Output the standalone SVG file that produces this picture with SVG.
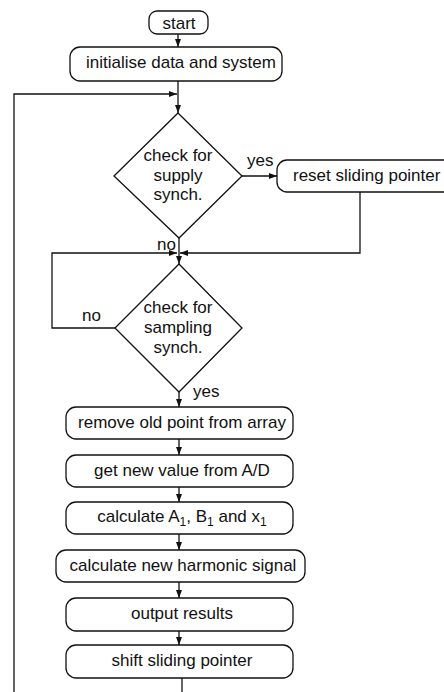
<svg xmlns="http://www.w3.org/2000/svg" width="444" height="692" viewBox="0 0 444 692">
  <style>
    .box { fill: #ffffff; stroke: #111111; stroke-width: 1.3; }
    .dia { fill: #ffffff; stroke: #111111; stroke-width: 1.3; }
    .lbl { font-family: "Liberation Sans", Arial, Helvetica, sans-serif; font-size: 17px; fill: #111111; }
    .mid { text-anchor: middle; }
    .wire { fill: none; stroke: #111111; stroke-width: 1.3; }
    .arrow { marker-end: url(#head); }
  </style>
  <defs>
    <marker id="head" markerWidth="8" markerHeight="6" refX="8" refY="3" orient="auto" markerUnits="userSpaceOnUse">
      <path d="M0,0 L8,3 L0,6 Z" fill="#111111"/>
    </marker>
  </defs>
  <rect width="444" height="692" fill="#ffffff"/>

  <!-- connectors -->
  <g id="connectors">
    <path class="wire arrow" d="M178,34 V47"/>
    <path class="wire arrow" d="M178,81 V113"/>
    <path class="wire arrow" d="M14,692 V94 H177"/>
    <path class="wire arrow" d="M242,176 H277"/>
    <path class="wire arrow" d="M360,192 V253 H180"/>
    <path class="wire arrow" d="M115,328 H52 V253 H177"/>
    <path class="wire arrow" d="M179,238 V264"/>
    <path class="wire arrow" d="M179,392 V407"/>
    <path class="wire arrow" d="M179,439 V455"/>
    <path class="wire arrow" d="M179,487 V502"/>
    <path class="wire arrow" d="M179,534 V550"/>
    <path class="wire arrow" d="M179,582 V598"/>
    <path class="wire arrow" d="M179,631 V645"/>
    <path class="wire" d="M182,678 V692"/>
    <text class="lbl" x="247" y="166">yes</text>
    <text class="lbl" x="157" y="250">no</text>
    <text class="lbl" x="82" y="321">no</text>
    <text class="lbl" x="193" y="397">yes</text>
  </g>

  <g id="start">
    <rect class="box" x="149" y="11" width="59" height="23" rx="8"/>
    <text class="lbl mid" x="179" y="29">start</text>
  </g>

  <g id="initialise">
    <rect class="box" x="70" y="47" width="212" height="34" rx="10"/>
    <text class="lbl mid" x="181" y="68">initialise data and system</text>
  </g>

  <g id="supply-synch">
    <polygon class="dia" points="178,113 242,176 179,238 114,176"/>
    <text class="lbl mid" x="178" y="161">check for</text>
    <text class="lbl mid" x="178" y="181">supply</text>
    <text class="lbl mid" x="178" y="200">synch.</text>
  </g>

  <g id="reset-pointer">
    <rect class="box" x="277" y="160" width="180" height="32" rx="10"/>
    <text class="lbl" x="293" y="181">reset sliding pointer</text>
  </g>

  <g id="sampling-synch">
    <polygon class="dia" points="179,264 242,328 179,392 115,328"/>
    <text class="lbl mid" x="178" y="313">check for</text>
    <text class="lbl mid" x="178" y="333">sampling</text>
    <text class="lbl mid" x="178" y="353">synch.</text>
  </g>

  <g id="remove-point">
    <rect class="box" x="66" y="407" width="227" height="32" rx="10"/>
    <text class="lbl mid" x="182" y="428">remove old point from array</text>
  </g>

  <g id="get-value">
    <rect class="box" x="66" y="455" width="227" height="32" rx="10"/>
    <text class="lbl mid" x="182" y="476">get new value from A/D</text>
  </g>

  <g id="calc-coeffs">
    <rect class="box" x="66" y="502" width="227" height="32" rx="10"/>
    <text class="lbl mid" x="182" y="522">calculate A<tspan font-size="12" dy="4">1</tspan><tspan dy="-4">, B</tspan><tspan font-size="12" dy="4">1</tspan><tspan dy="-4"> and x</tspan><tspan font-size="12" dy="4">1</tspan></text>
  </g>

  <g id="calc-harmonic">
    <rect class="box" x="56" y="550" width="249" height="32" rx="10"/>
    <text class="lbl mid" x="183" y="571">calculate new harmonic signal</text>
  </g>

  <g id="output-results">
    <rect class="box" x="66" y="598" width="227" height="33" rx="10"/>
    <text class="lbl mid" x="182" y="619">output results</text>
  </g>

  <g id="shift-pointer">
    <rect class="box" x="66" y="645" width="227" height="33" rx="10"/>
    <text class="lbl mid" x="182" y="666">shift sliding pointer</text>
  </g>
</svg>
